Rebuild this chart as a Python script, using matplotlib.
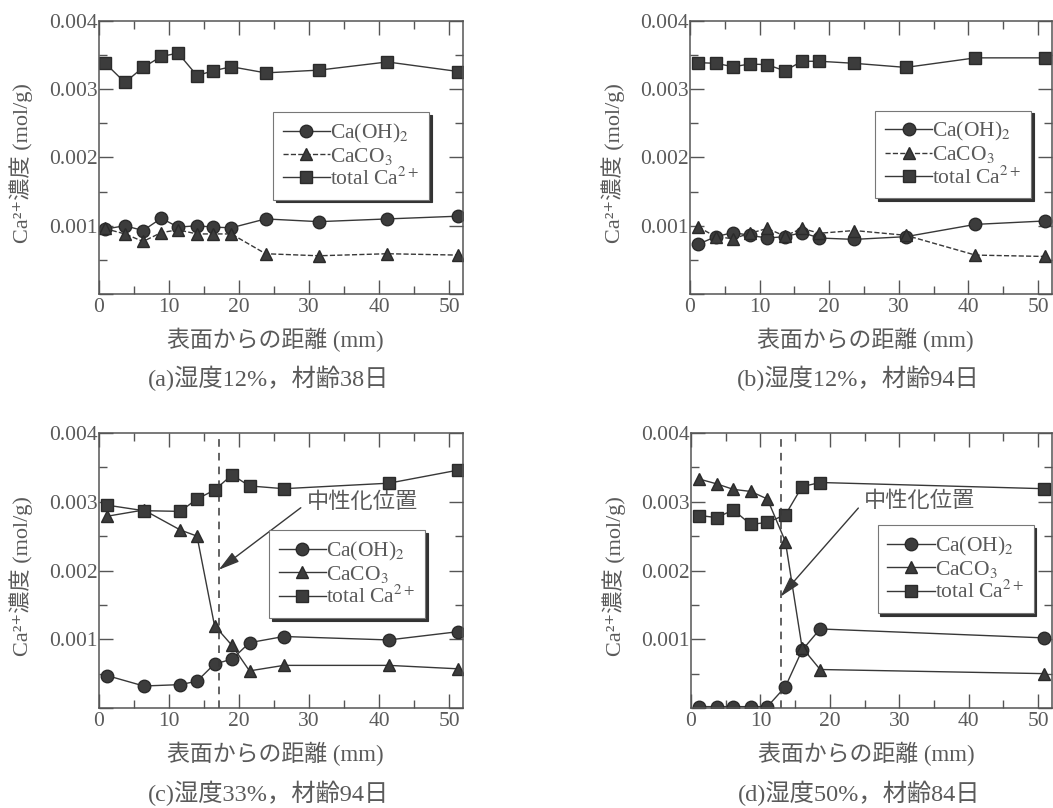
import numpy as np
import matplotlib
matplotlib.use('Agg')
from matplotlib import pyplot as plt
from matplotlib.ticker import MultipleLocator, FuncFormatter

# distance from surface (mm) and Ca concentrations (x1e-3 mol/g)
a_x = [0.8, 3.7, 6.3, 8.9, 11.3, 14.0, 16.3, 18.9, 23.8, 31.4, 41.2, 51.3]
a_caoh2 = [0.95, 1.00, 0.93, 1.11, 0.98, 1.00, 0.98, 0.97, 1.10, 1.06, 1.10, 1.14]
a_caco3 = [0.96, 0.88, 0.77, 0.90, 0.94, 0.88, 0.88, 0.88, 0.59, 0.56, 0.59, 0.57]
a_total = [3.39, 3.10, 3.32, 3.48, 3.53, 3.20, 3.27, 3.33, 3.24, 3.28, 3.40, 3.26]

b_x = [1.2, 3.7, 6.2, 8.6, 11.1, 13.6, 16.1, 18.6, 23.6, 31.0, 41.0, 51.0]
b_caoh2 = [0.73, 0.84, 0.90, 0.86, 0.82, 0.84, 0.90, 0.82, 0.80, 0.84, 1.02, 1.07]
b_caco3 = [0.98, 0.84, 0.81, 0.89, 0.96, 0.85, 0.96, 0.89, 0.93, 0.86, 0.57, 0.55]
b_total = [3.39, 3.38, 3.33, 3.37, 3.36, 3.27, 3.41, 3.41, 3.38, 3.32, 3.46, 3.46]

c_x = [1.2, 6.4, 11.6, 14.0, 16.5, 19.0, 21.5, 26.4, 41.4, 51.3]
c_caoh2 = [0.47, 0.32, 0.34, 0.39, 0.64, 0.71, 0.95, 1.04, 0.99, 1.11]
c_caco3 = [2.79, 2.88, 2.59, 2.50, 1.20, 0.91, 0.54, 0.62, 0.62, 0.57]
c_total = [2.95, 2.87, 2.86, 3.04, 3.17, 3.39, 3.23, 3.19, 3.27, 3.46]

d_x = [1.2, 3.7, 6.1, 8.6, 11.0, 13.6, 16.0, 18.6, 50.8]
d_caoh2 = [0.02, 0.02, 0.02, 0.02, 0.02, 0.31, 0.84, 1.15, 1.02]
d_caco3 = [3.33, 3.26, 3.18, 3.15, 3.04, 2.42, 0.88, 0.56, 0.50]
d_total = [2.80, 2.77, 2.88, 2.67, 2.70, 2.81, 3.22, 3.28, 3.19]

captions = ['(a)湿度12%，材齢38日', '(b)湿度12%，材齢94日',
            '(c)湿度33%，材齢94日', '(d)湿度50%，材齢84日']
labels = ['Ca(OH)$_2$', 'CaCO$_3$', 'total Ca$^{2+}$']
# neutralization front: x of dashed line, arrow tip y, label position (x, y)
neutral_c = (17.1, 2.01, 29.7, 2.98)
neutral_d = (12.9, 1.62, 24.9, 3.00)

plt.rcParams['font.family'] = ['Liberation Serif', 'DejaVu Serif', 'Noto Sans CJK JP']
plt.rcParams['mathtext.fontset'] = 'stix'

TXT = '#5a5a5a'
INK = '#383838'
W, H = 1053, 808

fig = plt.figure(figsize=(W / 100, H / 100), dpi=100)
# axes boxes in pixels: left, top, right, bottom
boxes = [(99, 21, 463, 294), (690, 21, 1052, 294),
         (99, 433, 463, 708), (691, 433, 1052, 708)]
data = [(a_x, a_caoh2, a_caco3, a_total),
        (b_x, b_caoh2, b_caco3, b_total),
        (c_x, c_caoh2, c_caco3, c_total),
        (d_x, d_caoh2, d_caco3, d_total)]
leg_pos = [(0.478, 0.667), (0.512, 0.672), (0.467, 0.647), (0.517, 0.665)]

for i, (box, (x, oh, co3, tot)) in enumerate(zip(boxes, data)):
    l, t, r, b = box
    ax = fig.add_axes([l / W, (H - b) / H, (r - l) / W, (b - t) / H])
    co3_ls = '--' if i < 2 else '-'
    kw = dict(color=INK, lw=1.0, ms=9, mec='#2a2a2a', mfc='#3c3c3c')
    ax.plot(x, np.array(oh) * 1e-3, '-', marker='o', label=labels[0], **kw)
    ax.plot(x, np.array(co3) * 1e-3, co3_ls, marker='^', label=labels[1], **kw)
    ax.plot(x, np.array(tot) * 1e-3, '-', marker='s', label=labels[2], **kw)

    ax.set_xlim(0, 52)
    ax.set_ylim(0, 0.004)
    ax.xaxis.set_major_locator(MultipleLocator(10))
    ax.xaxis.set_minor_locator(MultipleLocator(5))
    ax.yaxis.set_major_locator(MultipleLocator(0.001))
    ax.yaxis.set_minor_locator(MultipleLocator(0.0005))
    ax.yaxis.set_major_formatter(FuncFormatter(lambda v, p: '' if abs(v) < 1e-9 else f'{v:.3f}'))
    ax.tick_params(which='both', direction='in', top=True, right=True,
                   color='#555555', labelcolor=TXT, labelsize=15.5, width=1)
    ax.tick_params(which='major', length=10)
    ax.tick_params(which='minor', length=6)
    ax.tick_params(axis='x', pad=3)
    ax.tick_params(axis='y', pad=1)
    for s in ax.spines.values():
        s.set_color('#555555')
        s.set_linewidth(1.1)

    ax.set_ylabel('Ca²⁺濃度 (mol/g)', fontsize=16, color=TXT)
    ax.yaxis.set_label_coords(-0.18, 0.48)
    ax.text(0.485, -0.167, '表面からの距離 (mm)', transform=ax.transAxes,
            ha='center', va='center', fontsize=16.5, color=TXT)
    ax.text(0.465, -0.31, captions[i], transform=ax.transAxes,
            ha='center', va='center', fontsize=17.5, color=TXT)

    leg = ax.legend(loc='upper left', bbox_to_anchor=leg_pos[i], fontsize=15.5,
                    frameon=True, fancybox=False, framealpha=1,
                    edgecolor='#777777', handlelength=2.2, handletextpad=0.0,
                    labelspacing=0.05, borderpad=0.45, borderaxespad=0,
                    shadow={'color': '#333333', 'alpha': 1})
    leg.get_frame().set_linewidth(0.8)
    for txt in leg.get_texts():
        txt.set_color(TXT)

    if i >= 2:
        xn, tip_y, tx, ty = neutral_c if i == 2 else neutral_d
        ax.axvline(xn, color=INK, lw=1.1, ls=(0, (5, 4)))
        ax.annotate('中性化位置', xy=(xn, tip_y * 1e-3), xytext=(tx, ty * 1e-3),
                    ha='left', va='center', fontsize=16, color=TXT,
                    arrowprops=dict(arrowstyle='-|>,head_length=0.8,head_width=0.22',
                                    color=INK, lw=1.0, shrinkA=3, shrinkB=0,
                                    relpos=(0, 0.5)))

fig.savefig('out.png', dpi=100)
